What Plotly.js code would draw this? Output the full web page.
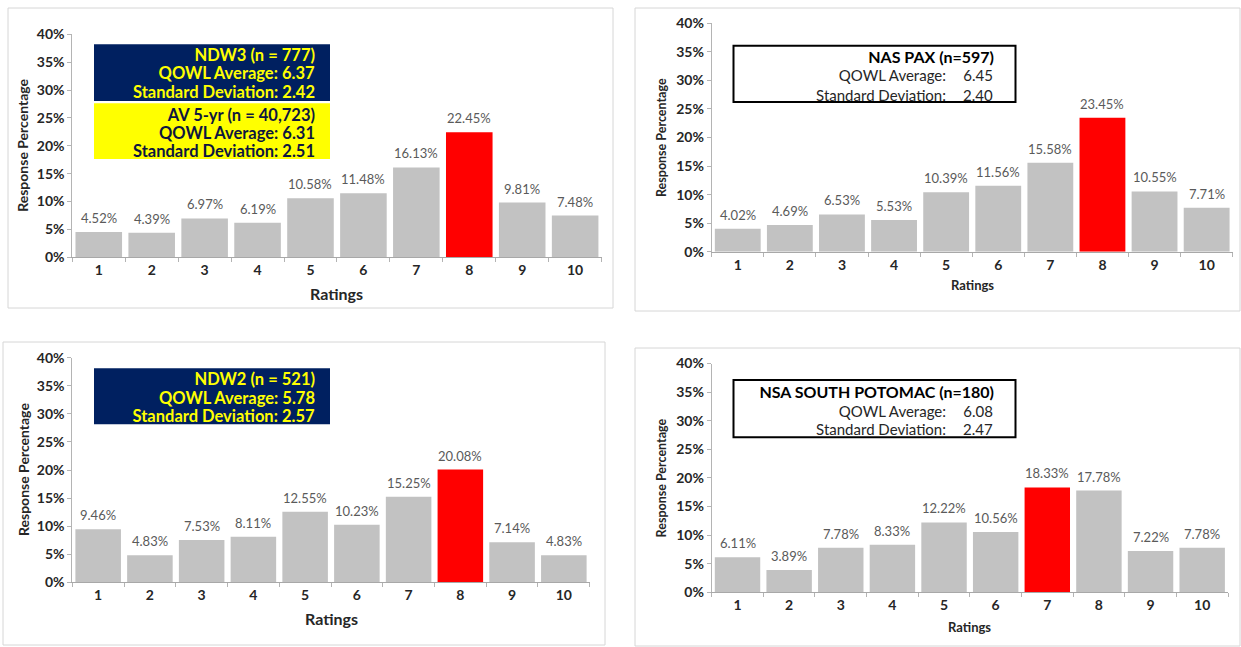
<!DOCTYPE html>
<html>
<head>
<meta charset="utf-8">
<script src="https://cdn.plot.ly/plotly-3.0.1.min.js"></script>
<style>
  html, body { margin: 0; padding: 0; background: #ffffff; }
  #chart { width: 1241px; height: 647px; }
</style>
</head>
<body>
<div id="chart"></div>
<script>
// Rating categories shared by all four panels
const ratings = ['1', '2', '3', '4', '5', '6', '7', '8', '9', '10'];

// Response percentages per rating
const ndw3Pct     = [4.52, 4.39, 6.97, 6.19, 10.58, 11.48, 16.13, 22.45, 9.81, 7.48];
const nasPaxPct   = [4.02, 4.69, 6.53, 5.53, 10.39, 11.56, 15.58, 23.45, 10.55, 7.71];
const ndw2Pct     = [9.46, 4.83, 7.53, 8.11, 12.55, 10.23, 15.25, 20.08, 7.14, 4.83];
const nsaSouthPct = [6.11, 3.89, 7.78, 8.33, 12.22, 10.56, 18.33, 17.78, 7.22, 7.78];

// Summary statistics shown in the boxes
const ndw3Stats   = ['NDW3 (n = 777)', 'QOWL Average: 6.37', 'Standard Deviation: 2.42'];
const av5yrStats  = ['AV 5-yr (n = 40,723)', 'QOWL Average: 6.31', 'Standard Deviation: 2.51'];
const ndw2Stats   = ['NDW2 (n = 521)', 'QOWL Average: 5.78', 'Standard Deviation: 2.57'];
const nasPaxTitle = 'NAS PAX (n=597)';
const nsaTitle    = 'NSA SOUTH POTOMAC (n=180)';
const statLabels  = ['QOWL Average:', 'Standard Deviation:'];
const nasPaxVals  = ['6.45', '2.40'];
const nsaVals     = ['6.08', '2.47'];

// Axis text
const yTitle = 'Response Percentage';
const xTitle = 'Ratings';

const W = 1241, H = 647;
const fx = x => x / W;
const fy = y => 1 - y / H;

const FONT = 'Lato, "Open Sans", sans-serif';
const GRAY_BAR = '#c2c2c2';
const RED_BAR = '#ff0000';
const NAVY = '#002060';
const YELLOW = '#ffff00';

// Panel geometry in page pixels: plot area (x0..x1, y of 0% and 40%), frame, label sizes
const panels = [
  { values: ndw3Pct,     x0: 72.3,  x1: 601.6,  yBot: 257.3, yTop: 34.3,
    frame: [8, 8, 613, 308],     yTitleX: 23,    xTitleY: 293,   big: true },
  { values: nasPaxPct,   x0: 711.7, x1: 1232.7, yBot: 251.7, yTop: 23.3,
    frame: [635, 8, 1240, 311],  yTitleX: 661.5, xTitleY: 285,   big: false },
  { values: ndw2Pct,     x0: 72.3,  x1: 589.7,  yBot: 582.3, yTop: 357.7,
    frame: [3, 342, 605, 645],   yTitleX: 23,    xTitleY: 618.7, big: true },
  { values: nsaSouthPct, x0: 711.7, x1: 1228,   yBot: 592.3, yTop: 363.5,
    frame: [635, 348, 1240, 646], yTitleX: 661.5, xTitleY: 626.7, big: false }
];

const traces = [];
const layout = {
  width: W, height: H,
  margin: { l: 0, r: 0, t: 0, b: 0 },
  paper_bgcolor: '#ffffff',
  plot_bgcolor: 'rgba(0,0,0,0)',
  showlegend: false,
  bargap: 0.12,
  font: { family: FONT, color: '#262626' },
  shapes: [],
  annotations: []
};

panels.forEach((p, i) => {
  const n = i === 0 ? '' : String(i + 1);
  const maxVal = Math.max(...p.values);
  traces.push({
    type: 'bar',
    x: ratings,
    y: p.values,
    xaxis: 'x' + n,
    yaxis: 'y' + n,
    marker: { color: p.values.map(v => v === maxVal ? RED_BAR : GRAY_BAR), line: { width: 0 } },
    hoverinfo: 'skip'
  });

  // value labels above each bar (x is the category's position on the axis)
  p.values.forEach((v, k) => {
    layout.annotations.push({
      xref: 'x' + n, yref: 'y' + n, showarrow: false,
      x: k, y: v, xanchor: 'center', yanchor: 'bottom', yshift: 4,
      text: v.toFixed(2) + '%',
      font: { family: FONT, size: 13, color: '#5a5a5a' }
    });
  });

  layout['xaxis' + n] = {
    domain: [fx(p.x0), fx(p.x1)],
    anchor: 'y' + n,
    type: 'category',
    range: [-0.5, ratings.length - 0.5],
    tickson: 'boundaries',
    ticks: 'outside', ticklen: 4, tickcolor: '#b4b4b4',
    showline: true, linecolor: '#a8a8a8', linewidth: 1,
    showgrid: false, zeroline: false,
    tickfont: { family: FONT, size: 14, weight: 'bold', color: '#262626' },
    fixedrange: true
  };
  layout['yaxis' + n] = {
    domain: [fy(p.yBot), fy(p.yTop)],
    anchor: 'x' + n,
    range: [0, 40], dtick: 5, ticksuffix: '%',
    ticks: 'outside', ticklen: 4, tickcolor: '#b4b4b4',
    showline: true, linecolor: '#b4b4b4', linewidth: 1,
    showgrid: false, zeroline: false,
    tickfont: { family: FONT, size: 14, weight: 'bold', color: '#262626' },
    fixedrange: true
  };

  // panel frame
  layout.shapes.push({
    type: 'rect', xref: 'paper', yref: 'paper', layer: 'below',
    x0: fx(p.frame[0]), x1: fx(p.frame[2]), y0: fy(p.frame[3]), y1: fy(p.frame[1]),
    line: { color: '#d6d6d6', width: 1 }, fillcolor: 'rgba(0,0,0,0)'
  });

  // axis titles
  layout.annotations.push({
    xref: 'paper', yref: 'paper', showarrow: false,
    x: fx(p.yTitleX), y: fy((p.yBot + p.yTop) / 2),
    xanchor: 'center', yanchor: 'middle', textangle: -90,
    text: '<b>' + yTitle + '</b>',
    font: { family: FONT, size: p.big ? 14 : 12.5, color: '#262626' }
  });
  layout.annotations.push({
    xref: 'paper', yref: 'paper', showarrow: false,
    x: fx((p.x0 + p.x1) / 2), y: fy(p.xTitleY),
    xanchor: 'center', yanchor: 'middle',
    text: '<b>' + xTitle + '</b>',
    font: { family: FONT, size: p.big ? 16 : 13, color: '#262626' }
  });
});

// Right-aligned text line: fixed-width annotation box so the line ends at xRight
function rightLine(xRight, y, boxWidth, text, font) {
  layout.annotations.push({
    xref: 'paper', yref: 'paper', showarrow: false,
    x: fx(xRight), y: fy(y), xanchor: 'right', yanchor: 'middle',
    width: boxWidth, align: 'right', borderpad: 0,
    text: text, font: font
  });
}

// Filled statistic boxes (left column)
function filledBox(x0, y0, x1, y1, fill, lines, lineYs, textColor) {
  layout.shapes.push({
    type: 'rect', xref: 'paper', yref: 'paper', layer: 'above',
    x0: fx(x0), x1: fx(x1), y0: fy(y1), y1: fy(y0),
    line: { width: 0 }, fillcolor: fill
  });
  lines.forEach((t, k) => {
    rightLine(316, lineYs[k], 220, '<b>' + t + '</b>',
      { family: FONT, size: 16.5, color: textColor });
  });
}
filledBox(94, 44.3, 330, 101, NAVY, ndw3Stats, [55, 73.3, 91.5], YELLOW);
filledBox(94, 103.3, 330, 159, YELLOW, av5yrStats, [115, 133, 151], '#0d1640');
filledBox(94, 368.3, 330, 424.3, NAVY, ndw2Stats, [379, 397.5, 416], YELLOW);

// Outlined statistic boxes (right column)
function outlinedBox(y0, y1, title, vals, lineYs) {
  layout.shapes.push({
    type: 'rect', xref: 'paper', yref: 'paper', layer: 'above',
    x0: fx(733.5), x1: fx(1015.5), y0: fy(y1), y1: fy(y0),
    line: { color: '#000000', width: 2 }, fillcolor: '#ffffff'
  });
  rightLine(995, lineYs[0], 260, '<b>' + title + '</b>',
    { family: FONT, size: 16, color: '#000000' });
  statLabels.forEach((lab, k) => {
    rightLine(947, lineYs[k + 1], 200, lab, { family: FONT, size: 15, color: '#262626' });
    rightLine(994, lineYs[k + 1], 40, vals[k], { family: FONT, size: 15, color: '#262626' });
  });
}
outlinedBox(45.7, 102, nasPaxTitle, nasPaxVals, [56.7, 75.3, 95]);
outlinedBox(380, 437.3, nsaTitle, nsaVals, [391.7, 410.7, 429.3]);

Plotly.newPlot('chart', traces, layout, { staticPlot: true, displayModeBar: false });
</script>
</body>
</html>
